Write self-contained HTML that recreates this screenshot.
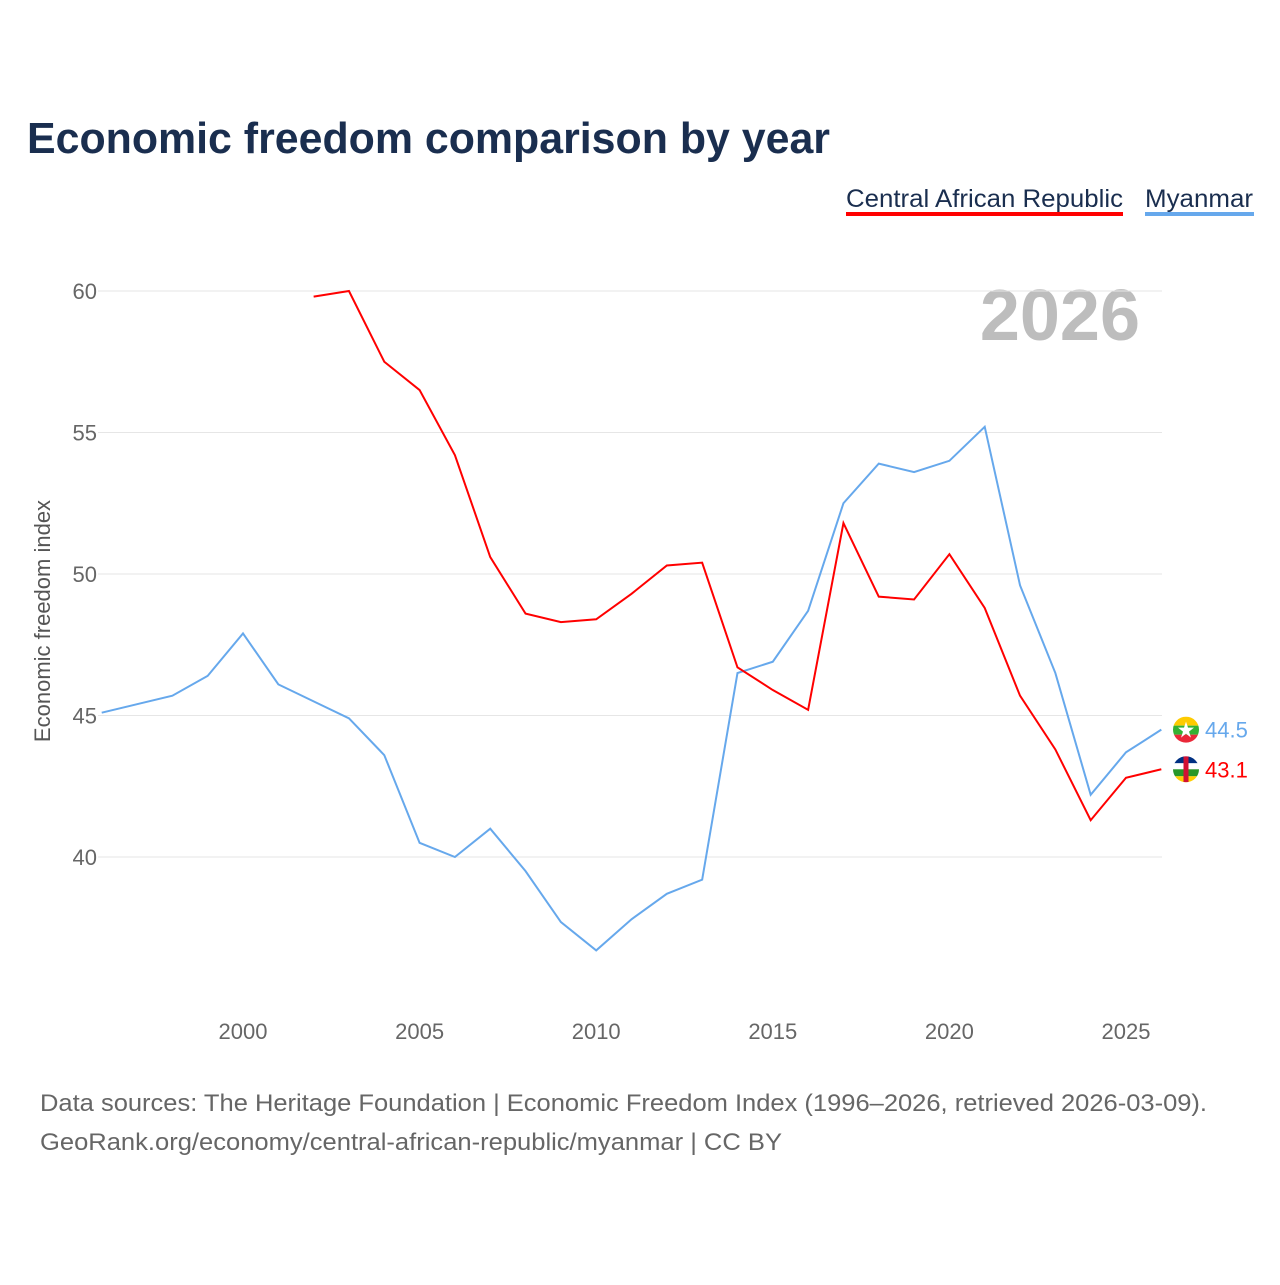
<!DOCTYPE html>
<html><head><meta charset="utf-8"><style>
body{margin:0;background:#fff;font-family:"Liberation Sans",sans-serif}
svg text{font-family:"Liberation Sans",sans-serif}
</style></head><body>
<svg width="1280" height="1280" viewBox="0 0 1280 1280">
<defs>
<clipPath id="c1"><circle cx="0" cy="0" r="13"/></clipPath>
</defs>
<text x="27" y="153" font-size="44" font-weight="700" fill="#1a2e4f" textLength="803" lengthAdjust="spacingAndGlyphs">Economic freedom comparison by year</text>
<g><text x="846" y="207" font-size="25" fill="#1a2e4f" textLength="277" lengthAdjust="spacingAndGlyphs">Central African Republic</text><rect x="846" y="212" width="277" height="4" fill="#ff0000"/></g>
<g><text x="1145" y="207" font-size="25" fill="#1a2e4f" textLength="108" lengthAdjust="spacingAndGlyphs">Myanmar</text><rect x="1145" y="212" width="109" height="4" fill="#66a8ec"/></g>
<text x="1140" y="340" text-anchor="end" font-size="72" font-weight="bold" fill="#bdbdbd">2026</text>
<text transform="translate(50,621) rotate(-90)" text-anchor="middle" font-size="22" fill="#555">Economic freedom index</text>
<g id="grid"></g><g id="xt"></g><g id="lines"></g><g id="ends"></g>
<text x="40" y="1111" font-size="24" fill="#666" textLength="1167" lengthAdjust="spacingAndGlyphs">Data sources: The Heritage Foundation | Economic Freedom Index (1996–2026, retrieved 2026-03-09).</text>
<text x="40" y="1150" font-size="24" fill="#666" textLength="742" lengthAdjust="spacingAndGlyphs">GeoRank.org/economy/central-african-republic/myanmar | CC BY</text>
</svg>
<script>
const yTicks=[40,45,50,55,60];
const xTicks=[2000,2005,2010,2015,2020,2025];
const mmYears=[1996,1997,1998,1999,2000,2001,2002,2003,2004,2005,2006,2007,2008,2009,2010,2011,2012,2013,2014,2015,2016,2017,2018,2019,2020,2021,2022,2023,2024,2025,2026];
const mmValues=[45.1,45.4,45.7,46.4,47.9,46.1,45.5,44.9,43.6,40.5,40.0,41.0,39.5,37.7,36.7,37.8,38.7,39.2,46.5,46.9,48.7,52.5,53.9,53.6,54.0,55.2,49.6,46.5,42.2,43.7,44.5];
const carYears=[2002,2003,2004,2005,2006,2007,2008,2009,2010,2011,2012,2013,2014,2015,2016,2017,2018,2019,2020,2021,2022,2023,2024,2025,2026];
const carValues=[59.8,60.0,57.5,56.5,54.2,50.6,48.6,48.3,48.4,49.3,50.3,50.4,46.7,45.9,45.2,51.8,49.2,49.1,50.7,48.8,45.7,43.8,41.3,42.8,43.1];
const NS="http://www.w3.org/2000/svg";
const X=v=>243+(v-2000)*35.32, Y=v=>857-(v-40)*28.3;
function mk(t,a,p){const e=document.createElementNS(NS,t);for(const k in a)e.setAttribute(k,a[k]);p.appendChild(e);return e;}
const g=document.getElementById('grid');
yTicks.forEach(t=>{
 const l=mk('line',{x1:98,x2:1162,y1:Y(t),y2:Y(t),stroke:'#e6e6e6'},g);
 
 
 const tx=mk('text',{x:97,y:Y(t)+8,'text-anchor':'end','font-size':22,fill:'#666'},g);tx.textContent=t;
 
 
});
const xt=document.getElementById('xt');
xTicks.forEach(t=>{const tx=mk('text',{x:X(t),y:1039,'text-anchor':'middle','font-size':22,fill:'#666'},xt);tx.textContent=t;
 
 });
const L=document.getElementById('lines');
function line(ys,vs,c,n){const p=mk('path',{d:vs.map((v,i)=>(i?'L':'M')+X(ys[i])+','+Y(v)).join(''),fill:'none',stroke:c,'stroke-width':2},L);
 
 }
line(mmYears,mmValues,'#66a8ec','line-myanmar');
line(carYears,carValues,'#ff0000','line-car');
const E=document.getElementById('ends');
function end(v,c,n,flag){const y=Y(v);
 const fg=mk('g',{transform:'translate(1186,'+y+')','clip-path':'url(#c1)'},E);
 
 
 flag(fg);
 const t=mk('text',{x:1205,y:y+8,'font-size':22,fill:c},E);t.textContent=v.toFixed(1);
 
 }
end(mmValues[mmValues.length-1],'#66a8ec','end-label-myanmar',fg=>{
 mk('rect',{x:-13,y:-13,width:26,height:9,fill:'#fecb00'},fg);
 mk('rect',{x:-13,y:-4,width:26,height:9,fill:'#34b233'},fg);
 mk('rect',{x:-13,y:5,width:26,height:9,fill:'#ea2839'},fg);
 mk('polygon',{points:'0,-8 2,-2 8,-2 3,2 5,8 0,4 -5,8 -3,2 -8,-2 -2,-2',fill:'#fff'},fg);
});
end(carValues[carValues.length-1],'#ff0000','end-label-car',fg=>{
 mk('rect',{x:-13,y:-13,width:26,height:7,fill:'#003082'},fg);
 mk('rect',{x:-13,y:-6,width:26,height:6,fill:'#fff'},fg);
 mk('rect',{x:-13,y:0,width:26,height:7,fill:'#289728'},fg);
 mk('rect',{x:-13,y:7,width:26,height:7,fill:'#ffce00'},fg);
 mk('rect',{x:-2.5,y:-13,width:5,height:26,fill:'#d21034'},fg);
});
</script>
</body></html>
